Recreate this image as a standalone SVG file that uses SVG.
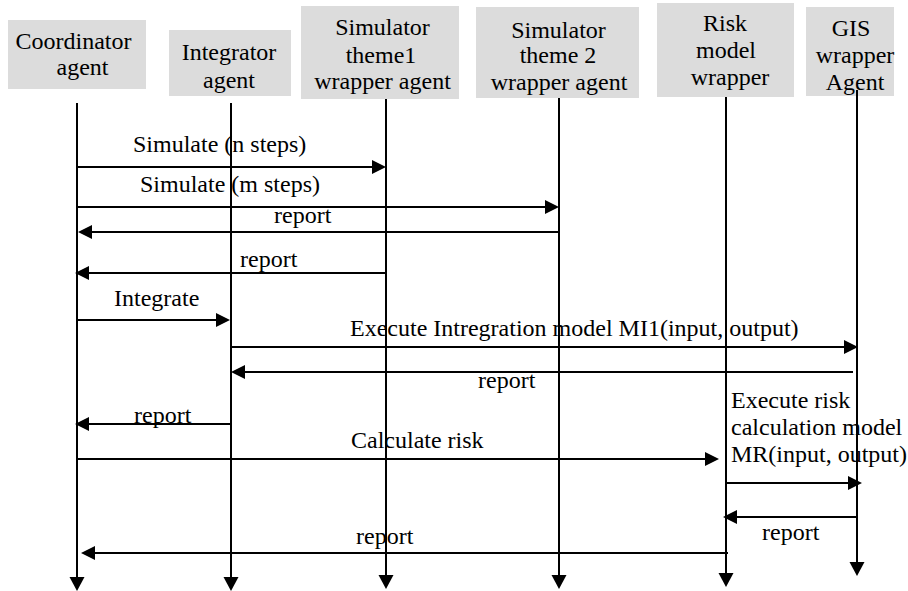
<svg xmlns="http://www.w3.org/2000/svg" width="908" height="591" viewBox="0 0 908 591">
  <style>
    .box { fill: #dcdcdc; stroke: none; }
    .t { font-family: "Liberation Serif", "Times New Roman", serif; font-size: 24px; fill: #000; }
    .m { text-anchor: middle; }
    .life { stroke: #000; stroke-width: 2; fill: none; marker-end: url(#down); }
    .msg { stroke: #000; stroke-width: 2; fill: none; marker-end: url(#head); }
  </style>
  <defs>
    <marker id="head" markerUnits="userSpaceOnUse" markerWidth="15" markerHeight="14" refX="12" refY="7" orient="auto">
      <path d="M0,0 L14,7 L0,14 z" fill="#000"/>
    </marker>
    <marker id="down" markerUnits="userSpaceOnUse" markerWidth="15" markerHeight="16" refX="12" refY="7.5" orient="auto">
      <path d="M0,0 L14,7.5 L0,15 z" fill="#000"/>
    </marker>
    <clipPath id="clipSim2">
      <rect x="476" y="7" width="163" height="91"/>
    </clipPath>
  </defs>

  <rect width="908" height="591" fill="#fff"/>

  <!-- participants: header box, name, lifeline -->
  <g id="coordinator">
    <rect class="box" x="8" y="20" width="138" height="69"/>
    <text class="t m" x="73.5" y="49">Coordinator</text>
    <text class="t m" x="82.5" y="75">agent</text>
    <path class="life" d="M77,103 V589"/>
  </g>

  <g id="integrator">
    <rect class="box" x="169" y="30" width="122" height="66"/>
    <text class="t m" x="229" y="60">Integrator</text>
    <text class="t m" x="229" y="88">agent</text>
    <path class="life" d="M231,103 V589"/>
  </g>

  <g id="simulator1">
    <rect class="box" x="301" y="6" width="158" height="93"/>
    <text class="t m" x="382.5" y="35">Simulator</text>
    <text class="t m" x="381" y="63">theme1</text>
    <text class="t m" x="382.5" y="89">wrapper agent</text>
    <path class="life" d="M386,99 V587"/>
  </g>

  <g id="simulator2">
    <rect class="box" x="476" y="7" width="163" height="91"/>
    <g clip-path="url(#clipSim2)">
      <text class="t m" x="558.5" y="38">Simulator</text>
      <text class="t m" x="558" y="63">theme 2</text>
      <text class="t m" x="559" y="90">wrapper agent</text>
    </g>
    <path class="life" d="M559,98 V587"/>
  </g>

  <g id="risk">
    <rect class="box" x="657" y="3" width="137" height="94"/>
    <text class="t m" x="725" y="31">Risk</text>
    <text class="t m" x="726" y="58">model</text>
    <text class="t m" x="730" y="85">wrapper</text>
    <path class="life" d="M726,97 V585"/>
  </g>

  <g id="gis">
    <rect class="box" x="806" y="7" width="88" height="89"/>
    <text class="t m" x="851" y="36">GIS</text>
    <text class="t m" x="855" y="63">wrapper</text>
    <text class="t m" x="855" y="90">Agent</text>
    <path class="life" d="M857,90 V574"/>
  </g>

  <!-- messages -->
  <g id="connectors">
    <path class="msg" d="M77,167 H384"/>
    <path class="msg" d="M77,207 H557"/>
    <path class="msg" d="M559,232 H80"/>
    <path class="msg" d="M387,273 H77"/>
    <path class="msg" d="M77,320 H228"/>
    <path class="msg" d="M231,347 H856"/>
    <path class="msg" d="M853,372 H233"/>
    <path class="msg" d="M231,424 H77"/>
    <path class="msg" d="M77,459 H717"/>
    <path class="msg" d="M726,483 H860"/>
    <path class="msg" d="M857,517 H725"/>
    <path class="msg" d="M728,553 H83"/>
  </g>

  <!-- message labels -->
  <g id="labels">
    <text class="t" x="133" y="152">Simulate (n steps)</text>
    <text class="t" x="140" y="192">Simulate (m steps)</text>
    <text class="t" x="274" y="223">report</text>
    <text class="t" x="240" y="267">report</text>
    <text class="t" x="114" y="306">Integrate</text>
    <text class="t" x="350" y="336">Execute Intregration model MI1(input, output)</text>
    <text class="t" x="478" y="388">report</text>
    <text class="t" x="134" y="423">report</text>
    <text class="t" x="351" y="448">Calculate risk</text>
    <text class="t" x="731" y="408">Execute risk</text>
    <text class="t" x="731" y="435">calculation model</text>
    <text class="t" x="731" y="462">MR(input, output)</text>
    <text class="t" x="762" y="540">report</text>
    <text class="t" x="356" y="544">report</text>
  </g>
</svg>
